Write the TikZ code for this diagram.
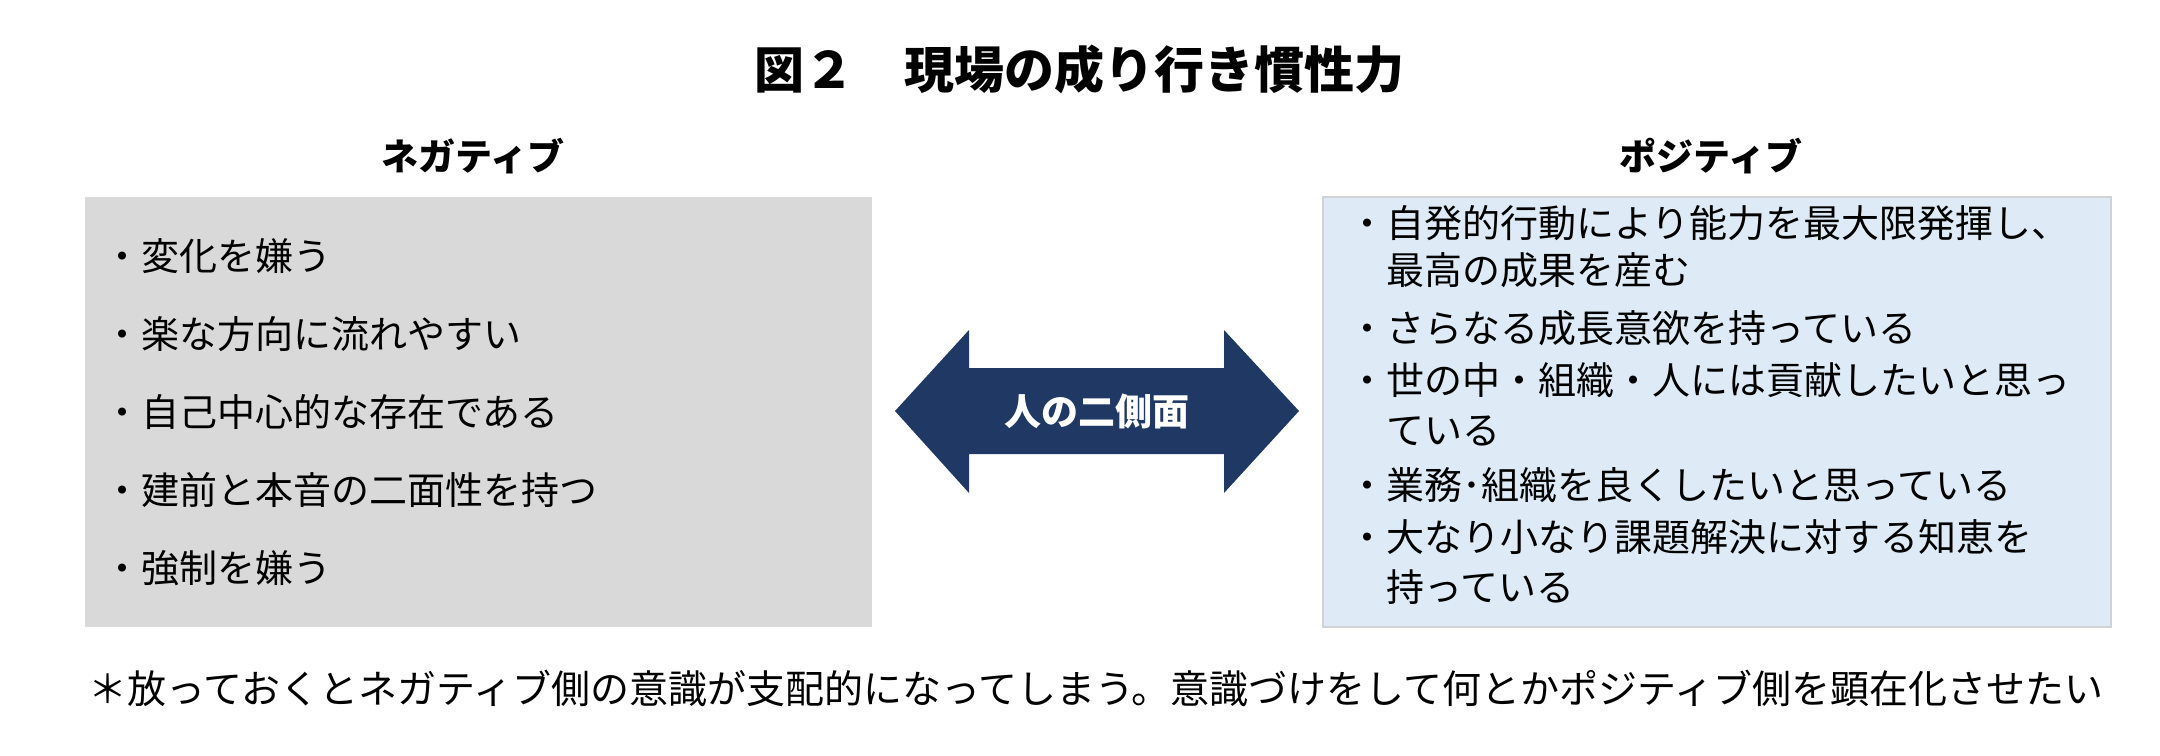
\documentclass[tikz,border=0pt]{standalone}
\usepackage{fontspec}
\setmainfont{Noto Sans CJK JP}
\usetikzlibrary{positioning}
\tikzset{every node/.style={inner sep=0pt, outer sep=0pt}}
\tikzset{
  item/.style={anchor=west, font=\fontsize{38pt}{44pt}\selectfont, text height=33.4pt, text depth=4.6pt},
  headlabel/.style={font=\fontsize{37pt}{44pt}\selectfont\bfseries},
}

\begin{document}
\begin{tikzpicture}[x=1pt, y=-1pt]
  % Bounding box fixe (taille de la reference)
  \path[use as bounding box] (0,0) rectangle (2160,755);

  % Colors.
  \definecolor{negcol}{HTML}{D9D9D9}
  \definecolor{poscol}{HTML}{DEEBF7}
  \definecolor{posline}{HTML}{D0D3D6}
  \definecolor{arrowcol}{HTML}{203864}

  % Title.
  \node[font=\fontsize{50pt}{56pt}\selectfont\bfseries] (title) at (1079,69) {図２　現場の成り行き慣性力};

  % The two boxes and their headings.
  \node[fill=negcol, minimum width=787pt, minimum height=430pt, anchor=north west] (negbox) at (85,197) {};
  \node[fill=poscol, draw=posline, line width=1.2pt, minimum width=788pt, minimum height=430pt, anchor=north west] (posbox) at (1323,197) {};
  \node[headlabel] (neglabel) at (473,156) {ネガティブ};
  \node[headlabel] (poslabel) at (1711,156) {ポジティブ};

  % Negative side.
  \foreach \txt [count=\i] in {変化を嫌う, 楽な方向に流れやすい, 自己中心的な存在である, 建前と本音の二面性を持つ, 強制を嫌う}
    \node[item] (neg\i) at (103, {256+78*(\i-1)}) {・\txt};

  % Positive side.
  \node[item] (pos1) at (1348,223) {・自発的行動により能力を最大限発揮し、};
  \node[item] (pos1b) at (1386,270) {最高の成果を産む};
  \node[item] (pos2) at (1348,328) {・さらなる成長意欲を持っている};
  \node[item] (pos3) at (1348,380) {・世の中・組織・人には貢献したいと思っ};
  \node[item] (pos3b) at (1386,430) {ている};
  \node[item] (pos4) at (1348,485) {・業務･組織を良くしたいと思っている};
  \node[item] (pos5) at (1348,537) {・大なり小なり課題解決に対する知恵を};
  \node[item] (pos5b) at (1386,587) {持っている};

  % Double arrow between the two sides.
  \fill[arrowcol] (895,411) -- (969,330) -- (969,368) -- (1224,368) -- (1224,330)
    -- (1299,411) -- (1224,493) -- (1224,454) -- (969,454) -- (969,493) -- cycle;
  \node[headlabel, text=white] (twoside) at (1097,411) {人の二側面};

  % Footnote.
  \node[item, anchor=center, font=\fontsize{39pt}{44pt}\selectfont] (note) at (1096,689) {＊放っておくとネガティブ側の意識が支配的になってしまう。意識づけをして何とかポジティブ側を顕在化させたい};
\end{tikzpicture}
\end{document}
